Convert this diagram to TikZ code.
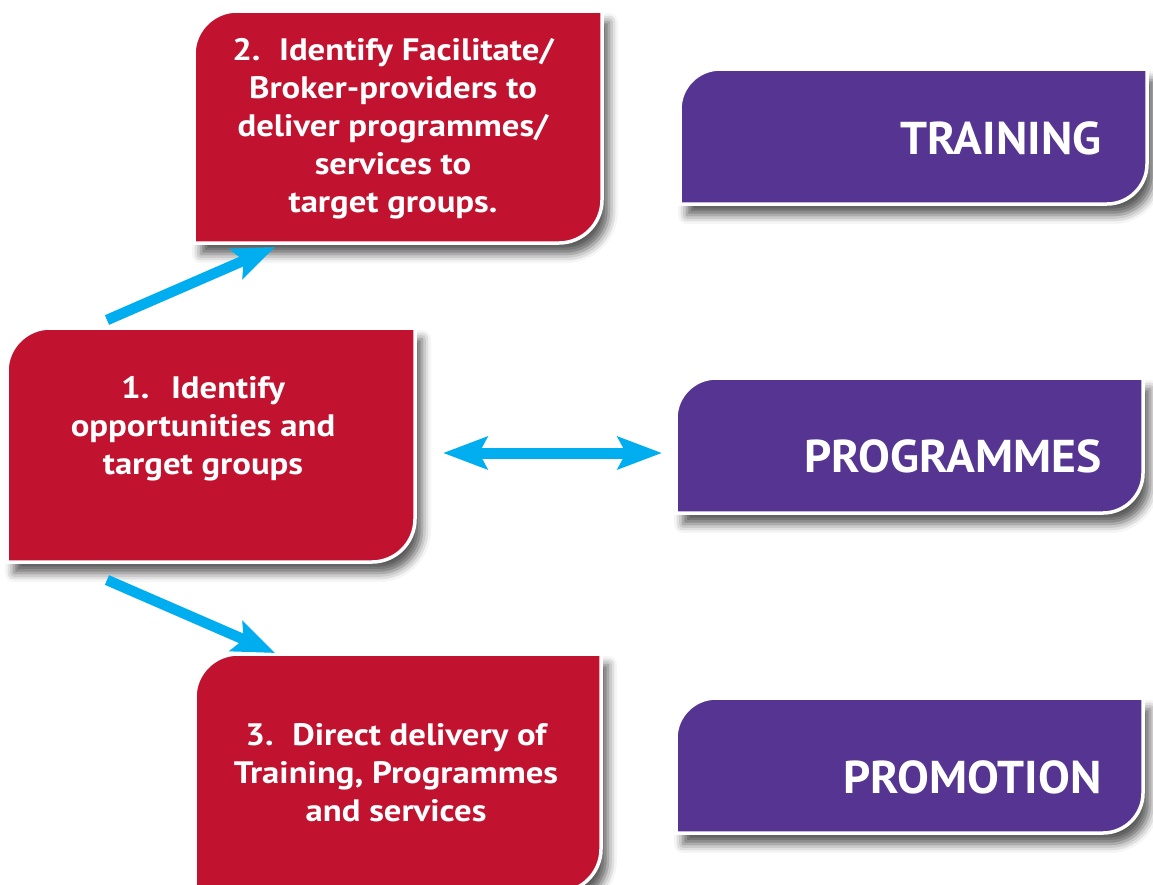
\documentclass[tikz,border=0pt]{standalone}
\usepackage{fontspec}
\setmainfont{PT Sans}
\newfontfamily\stepfont[FakeStretch=1.12]{PT Sans}
\newfontfamily\bannerfont[FakeStretch=1.035]{PT Sans}
\usetikzlibrary{calc,arrows.meta,shadows.blur}
\definecolor{boxred}{HTML}{C1122F}
\definecolor{boxpurple}{HTML}{563592}
\definecolor{arrowblue}{HTML}{00AEEF}

% panel outline: rounded top-left and bottom-right corners, square elsewhere
\newcommand\tabpath[2]{%
  (#1.south west) -- ($(#1.north west)+(0,#2)$)
  .. controls ($(#1.north west)+(0,0.45*#2)$) and ($(#1.north west)+(0.45*#2,0)$) .. ($(#1.north west)+(#2,0)$)
  -- (#1.north east) -- ($(#1.south east)+(0,-#2)$)
  .. controls ($(#1.south east)+(0,-0.45*#2)$) and ($(#1.south east)+(-0.45*#2,0)$) .. ($(#1.south east)+(-#2,0)$)
  -- cycle}

\tikzset{
  panel/.style={rectangle, inner sep=0pt, outer sep=0pt},
  tabfill/.style={fill=#1, draw=white, line width=3.5pt,
    blur shadow={shadow xshift=7pt, shadow yshift=-11pt, shadow blur radius=9pt, shadow opacity=65}},
  redtext/.style={text=white, font=\stepfont\bfseries\fontsize{31}{38}\selectfont, align=center},
  purpletext/.style={text=white, font=\bannerfont\bfseries\fontsize{46}{50}\selectfont, anchor=base east},
  flow/.style={draw=arrowblue, line width=10.5pt, -{Stealth[length=42pt,width=32pt,inset=8pt]}},
  flowboth/.style={draw=arrowblue, line width=11pt, {Stealth[length=44pt,width=32pt,inset=8pt]}-{Stealth[length=44pt,width=32pt,inset=8pt]}},
}

\begin{document}
\begin{tikzpicture}[x=1pt,y=-1pt]
\useasboundingbox (0,0) rectangle (1153,884);

% panel frames
\node[panel, minimum width=408pt, minimum height=234pt] (b1) at (211,445) {};
\node[panel, minimum width=408pt, minimum height=232pt] (b2) at (398,127) {};
\node[panel, minimum width=406pt, minimum height=238pt] (b3) at (398,773) {};
\node[panel, minimum width=467pt, minimum height=135pt] (p1) at (913.5,136.5) {};
\node[panel, minimum width=467pt, minimum height=135pt] (p2) at (909.5,445.5) {};
\node[panel, minimum width=467pt, minimum height=135pt] (p3) at (909.5,765.5) {};

% panel bodies
\path[tabfill=boxred] \tabpath{b2}{43};
\path[tabfill=boxred] \tabpath{b1}{43};
\path[tabfill=boxred] \tabpath{b3}{43};
\path[tabfill=boxpurple] \tabpath{p1}{40};
\path[tabfill=boxpurple] \tabpath{p2}{40};
\path[tabfill=boxpurple] \tabpath{p3}{40};

% panel texts
\node[redtext] (t1) at ($(b1.center)+(-8,-16)$)
  {1.\hspace{0.7em}Identify\\opportunities and\\target groups};
\node[redtext] (t2) at ($(b2.center)+(-5,2)$)
  {2.\hspace{0.6em}Identify Facilitate/\\Broker-providers to\\deliver programmes/\\services to\\target groups.};
\node[redtext] (t3) at ($(b3.center)+(-2,0)$)
  {3.\hspace{0.6em}Direct delivery of\\Training, Programmes\\and services};
\node[purpletext] (l1) at ($(p1.south east)+(-42,-50)$) {TRAINING};
\node[purpletext] (l2) at ($(p2.south east)+(-38,-41)$) {PROGRAMMES};
\node[purpletext] (l3) at ($(p3.south east)+(-38,-40)$) {PROMOTION};

% connectors
\coordinate (up1) at ($(b1.north west)+(100,-8)$);
\coordinate (up2) at ($(b2.south west)+(81,4)$);
\coordinate (dn1) at ($(b1.south west)+(100,18)$);
\coordinate (dn2) at ($(b3.north west)+(80,-1)$);
\coordinate (h1) at ($(b1.east)+(28,8)$);
\coordinate (h2) at ($(p2.west)+(-14,7.5)$);

\draw[flow] (up1) -- (up2);
\draw[flow] (dn1) -- (dn2);
\draw[flowboth] (h1) -- (h2);
\end{tikzpicture}
\end{document}
